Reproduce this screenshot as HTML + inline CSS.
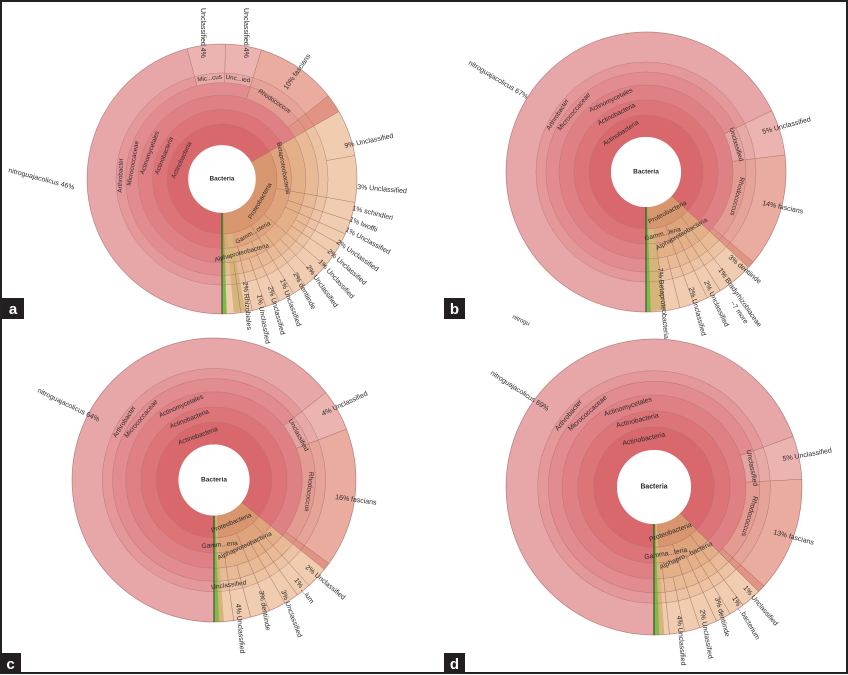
<!DOCTYPE html>
<html><head><meta charset="utf-8"><style>
html,body{margin:0;padding:0;background:#fff}
svg{display:block}
text{font-family:"Liberation Sans",sans-serif;fill:#2a2a2a}
.s{fill:none}
.b{fill:none;stroke:#a86868;stroke-width:.5;opacity:.75}
.rl{stroke:#a07060;stroke-width:.45}
.t{font-size:6.5px;text-anchor:middle;dominant-baseline:central}
.o{font-size:7px}
</style></head><body>
<svg width="848" height="675" viewBox="0 0 848 675" xmlns="http://www.w3.org/2000/svg">
<rect x="0" y="0" width="848" height="675" fill="#fff"/>
<rect x="1" y="1" width="846" height="672" fill="none" stroke="#222" stroke-width="2"/>

<defs>
<g id="base">
<circle class="s" r="46" stroke="#d9686c" stroke-width="22"/>
<circle class="s" r="64.5" stroke="#dc7478" stroke-width="15"/>
<circle class="s" r="79.5" stroke="#df8084" stroke-width="15"/>
<circle class="s" r="93.5" stroke="#e28c8f" stroke-width="13"/>
<circle class="s" r="105" stroke="#e5989a" stroke-width="10"/>
<circle class="s" r="125" stroke="#e7a6a7" stroke-width="30"/>
</g>
<g id="rings">
<circle class="b" r="57"/><circle class="b" r="72"/><circle class="b" r="87"/>
<circle class="b" r="100"/><circle class="b" r="110"/><circle class="b" r="140" style="stroke-width:.7"/>
</g>
</defs>

<!-- Panel a -->
<g transform="translate(222,179) scale(0.964)">
<use href="#base"/>
<!-- proteo 60 -> 178 -->
<g transform="rotate(-30)">
<circle class="s" r="46" stroke="#d8966f" stroke-width="22" pathLength="360" stroke-dasharray="118 360"/>
<circle class="s" r="64.5" stroke="#dfa47c" stroke-width="15" pathLength="360" stroke-dasharray="118 360"/>
<circle class="s" r="79.5" stroke="#e4b088" stroke-width="15" pathLength="360" stroke-dasharray="118 360"/>
<circle class="s" r="93.5" stroke="#e8bb96" stroke-width="13" pathLength="360" stroke-dasharray="118 360"/>
<circle class="s" r="105" stroke="#ecc4a3" stroke-width="10" pathLength="360" stroke-dasharray="118 360"/>
<circle class="s" r="125" stroke="#f0cdb0" stroke-width="30" pathLength="360" stroke-dasharray="118 360"/>
</g>
<circle class="s" r="98" stroke="#d6b57a" stroke-width="82" pathLength="360" stroke-dasharray="5 360" transform="rotate(80)"/>
<!-- rhodococcus 17->52 -->
<g transform="rotate(-73)">
<circle class="s" r="93.5" stroke="#e49c92" stroke-width="13" pathLength="360" stroke-dasharray="35 360"/>
<circle class="s" r="105" stroke="#e6a397" stroke-width="10" pathLength="360" stroke-dasharray="35 360"/>
<circle class="s" r="125" stroke="#e9ac9f" stroke-width="30" pathLength="360" stroke-dasharray="35 360"/>
</g>
<circle class="s" r="113.5" stroke="#e29484" stroke-width="53" pathLength="360" stroke-dasharray="8 360" transform="rotate(-38)"/>
<!-- Mic..cus / Unc..ied -15 -> 17 -->
<g transform="rotate(-105)">
<circle class="s" r="105" stroke="#e8aaa6" stroke-width="10" pathLength="360" stroke-dasharray="32 360"/>
<circle class="s" r="125" stroke="#ebb4b0" stroke-width="30" pathLength="360" stroke-dasharray="32 360"/>
</g>
<circle class="s" r="87.5" stroke="#7fba48" stroke-width="105" pathLength="360" stroke-dasharray="2 360" transform="rotate(88)"/>
<use href="#rings"/>
<g class="rl">
<line y1="-35" y2="-140" transform="rotate(60)"/><line y1="-35" y2="-140" transform="rotate(180)" style="stroke:#1f4a1f;stroke-width:1"/>
<line y1="-100" y2="-140" transform="rotate(-15)"/><line y1="-100" y2="-140" transform="rotate(1.5)"/><line y1="-87" y2="-140" transform="rotate(17)"/><line y1="-87" y2="-140" transform="rotate(52)"/>
<line y1="-57" y2="-140" transform="rotate(100)"/><line y1="-110" y2="-140" transform="rotate(80)"/><line y1="-72" y2="-140" transform="rotate(108)"/>
<line y1="-72" y2="-140" transform="rotate(114)"/><line y1="-87" y2="-140" transform="rotate(119)"/><line y1="-87" y2="-140" transform="rotate(124)"/>
<line y1="-57" y2="-140" transform="rotate(130)"/><line y1="-87" y2="-140" transform="rotate(136)"/><line y1="-72" y2="-140" transform="rotate(142)"/>
<line y1="-57" y2="-140" transform="rotate(148)"/><line y1="-72" y2="-140" transform="rotate(155)"/><line y1="-87" y2="-140" transform="rotate(161)"/>
<line y1="-72" y2="-140" transform="rotate(167)"/><line y1="-87" y2="-140" transform="rotate(172)"/>
</g>
<circle r="35" fill="#fff"/>
<text class="t" style="font-weight:bold" y="0">Bacteria</text>
<text class="t" transform="rotate(-65) translate(0,-46)">Actinobacteria</text>
<text class="t" transform="rotate(-68) translate(0,-64.5)">Actinobacteria</text>
<text class="t" transform="rotate(-70) translate(0,-79.5)">Actinomycetales</text>
<text class="t" transform="rotate(-80) translate(0,-93.5)">Micrococcaceae</text>
<text class="t" transform="rotate(-88) translate(0,-105)">Arthrobacter</text>
<text class="t" transform="rotate(34) translate(0,-97)">Rhodococcus</text>
<text class="t" transform="rotate(-7) translate(0,-105)">Mic...cus</text>
<text class="t" transform="rotate(9) translate(0,-105)">Unc...ied</text>
<text class="t" transform="rotate(120) translate(0,-46) rotate(180)">Proteobacteria</text>
<text class="t" transform="rotate(150) translate(0,-64.5) rotate(180)">Gamm...cteria</text>
<text class="t" transform="rotate(165) translate(0,-79.5) rotate(180)">Alphaproteobacteria</text>
<text class="t" transform="rotate(80) translate(0,-64.5)">Betaproteobacteria</text>
</g>
<text class="o" transform="translate(8,172) rotate(15)">nitroguajacolicus  46%</text>
<text class="o" transform="translate(201,8) rotate(90)">Unclassified  4%</text>
<text class="o" transform="translate(244,8) rotate(90)">Unclassified  4%</text>
<text class="o" transform="translate(287,90) rotate(-55)">10%  fascians</text>
<text class="o" transform="translate(345,148) rotate(-12)">9%  Unclassified</text>
<text class="o" transform="translate(357,189) rotate(5)">3%  Unclassified</text>
<text class="o" transform="translate(352,210) rotate(14)">1%  schindleri</text>
<text class="o" transform="translate(349,221) rotate(22)">1%  lwoffii</text>
<text class="o" transform="translate(345,231) rotate(28)">1%  Unclassified</text>
<text class="o" transform="translate(336,243) rotate(35)">2%  Unclassified</text>
<text class="o" transform="translate(327,252) rotate(42)">2%  Unclassified</text>
<text class="o" transform="translate(318,262) rotate(48)">1%  Unclassified</text>
<text class="o" transform="translate(306,267) rotate(55)">2%  Unclassified</text>
<text class="o" transform="translate(293,274) rotate(62)">2%  dentiinde</text>
<text class="o" transform="translate(280,280) rotate(70)">1%  Unclassified</text>
<text class="o" transform="translate(268,287) rotate(75)">2%  Unclassified</text>
<text class="o" transform="translate(257,295) rotate(80)">1%  Unclassified</text>
<text class="o" transform="translate(243,282) rotate(85)">2%  Rhizobiales</text>

<!-- Panel b -->
<g transform="translate(646,172)">
<use href="#base"/>
<g transform="rotate(43)">
<circle class="s" r="46" stroke="#d8966f" stroke-width="22" pathLength="360" stroke-dasharray="45 360"/>
<circle class="s" r="64.5" stroke="#dfa47c" stroke-width="15" pathLength="360" stroke-dasharray="45 360"/>
<circle class="s" r="79.5" stroke="#e4b088" stroke-width="15" pathLength="360" stroke-dasharray="45 360"/>
<circle class="s" r="93.5" stroke="#e8bb96" stroke-width="13" pathLength="360" stroke-dasharray="45 360"/>
<circle class="s" r="105" stroke="#ecc4a3" stroke-width="10" pathLength="360" stroke-dasharray="45 360"/>
<circle class="s" r="125" stroke="#f0cdb0" stroke-width="30" pathLength="360" stroke-dasharray="45 360"/>
</g>
<circle class="s" r="98" stroke="#d6b57a" stroke-width="82" pathLength="360" stroke-dasharray="6 360" transform="rotate(82)"/>
<g transform="rotate(-7)">
<circle class="s" r="93.5" stroke="#e49c92" stroke-width="13" pathLength="360" stroke-dasharray="47 360"/>
<circle class="s" r="105" stroke="#e6a397" stroke-width="10" pathLength="360" stroke-dasharray="47 360"/>
<circle class="s" r="125" stroke="#e9ac9f" stroke-width="30" pathLength="360" stroke-dasharray="47 360"/>
</g>
<g transform="rotate(-26)">
<circle class="s" r="93.5" stroke="#e5a3a2" stroke-width="13" pathLength="360" stroke-dasharray="19 360"/>
<circle class="s" r="105" stroke="#e8aaa6" stroke-width="10" pathLength="360" stroke-dasharray="19 360"/>
<circle class="s" r="125" stroke="#ebb4b0" stroke-width="30" pathLength="360" stroke-dasharray="19 360"/>
</g>
<circle class="s" r="113.5" stroke="#e29484" stroke-width="53" pathLength="360" stroke-dasharray="3 360" transform="rotate(40)"/>
<circle class="s" r="87.5" stroke="#7fba48" stroke-width="105" pathLength="360" stroke-dasharray="2 360" transform="rotate(88)"/>
<use href="#rings"/>
<g class="rl">
<line y1="-35" y2="-140" transform="rotate(133)"/><line y1="-35" y2="-140" transform="rotate(180)" style="stroke:#1f4a1f;stroke-width:1"/>
<line y1="-87" y2="-140" transform="rotate(64)"/><line y1="-87" y2="-140" transform="rotate(83)"/><line y1="-87" y2="-140" transform="rotate(130)"/>
<line y1="-57" y2="-140" transform="rotate(142)"/><line y1="-72" y2="-140" transform="rotate(148)"/><line y1="-72" y2="-140" transform="rotate(154)"/>
<line y1="-57" y2="-140" transform="rotate(160)"/><line y1="-87" y2="-140" transform="rotate(166)"/><line y1="-72" y2="-140" transform="rotate(172)"/>
</g>
<circle r="35" fill="#fff"/>
<text class="t" style="font-weight:bold">Bacteria</text>
<text class="t" transform="rotate(-33) translate(0,-46)">Actinobacteria</text>
<text class="t" transform="rotate(-27) translate(0,-64.5)">Actinobacteria</text>
<text class="t" transform="rotate(-26) translate(0,-79.5)">Actinomycetales</text>
<text class="t" transform="rotate(-50) translate(0,-93.5)">Micrococcaceae</text>
<text class="t" transform="rotate(-57) translate(0,-105)">Arthrobacter</text>
<text class="t" transform="rotate(105) translate(0,-94)">Rhodococcus</text>
<text class="t" transform="rotate(73) translate(0,-94)">Unclassified</text>
<text class="t" transform="rotate(152) translate(0,-46) rotate(180)">Proteobacteria</text>
<text class="t" transform="rotate(165) translate(0,-64.5) rotate(180)">Gamm...leria</text>
<text class="t" transform="rotate(150) translate(0,-72) rotate(180)">Alphaproteobacteria</text>
</g>
<text class="o" transform="translate(468,64) rotate(31)">nitroguajacolicus  67%</text>
<text class="o" transform="translate(763,134) rotate(-15)">5%  Unclassified</text>
<text class="o" transform="translate(762,205) rotate(12)">14%  fascians</text>
<text class="o" transform="translate(728,258) rotate(40)">3%  dentiinde</text>
<text class="o" transform="translate(718,270) rotate(55)">1%  Bradyrhizobiaceae</text>
<text class="o" transform="translate(704,282) rotate(65)">2%  Unclassified</text>
<text class="o" transform="translate(689,288) rotate(75)">2%  Unclassified</text>
<text class="o" transform="translate(658,268) rotate(85)">7%  Betaproteobacteria</text>
<text class="o" transform="translate(730,303) rotate(55)">~7 more</text>
<text class="o" transform="translate(512,318) rotate(25)" style="font-size:6px">nitrogu</text>

<!-- Panel c -->
<g transform="translate(214,480) scale(1.014)">
<use href="#base"/>
<g transform="rotate(39)">
<circle class="s" r="46" stroke="#d8966f" stroke-width="22" pathLength="360" stroke-dasharray="49 360"/>
<circle class="s" r="64.5" stroke="#dfa47c" stroke-width="15" pathLength="360" stroke-dasharray="49 360"/>
<circle class="s" r="79.5" stroke="#e4b088" stroke-width="15" pathLength="360" stroke-dasharray="49 360"/>
<circle class="s" r="93.5" stroke="#e8bb96" stroke-width="13" pathLength="360" stroke-dasharray="49 360"/>
<circle class="s" r="105" stroke="#ecc4a3" stroke-width="10" pathLength="360" stroke-dasharray="49 360"/>
<circle class="s" r="125" stroke="#f0cdb0" stroke-width="30" pathLength="360" stroke-dasharray="49 360"/>
</g>
<g transform="rotate(-21)">
<circle class="s" r="93.5" stroke="#e49c92" stroke-width="13" pathLength="360" stroke-dasharray="57 360"/>
<circle class="s" r="105" stroke="#e6a397" stroke-width="10" pathLength="360" stroke-dasharray="57 360"/>
<circle class="s" r="125" stroke="#e9ac9f" stroke-width="30" pathLength="360" stroke-dasharray="57 360"/>
</g>
<g transform="rotate(-38)">
<circle class="s" r="93.5" stroke="#e5a3a2" stroke-width="13" pathLength="360" stroke-dasharray="17 360"/>
<circle class="s" r="105" stroke="#e8aaa6" stroke-width="10" pathLength="360" stroke-dasharray="17 360"/>
<circle class="s" r="125" stroke="#ebb4b0" stroke-width="30" pathLength="360" stroke-dasharray="17 360"/>
</g>
<circle class="s" r="113.5" stroke="#e29484" stroke-width="53" pathLength="360" stroke-dasharray="3 360" transform="rotate(36)"/>
<circle class="s" r="87.5" stroke="#d6b57a" stroke-width="105" pathLength="360" stroke-dasharray="3 360" transform="rotate(86)"/>
<circle class="s" r="87.5" stroke="#7fba48" stroke-width="105" pathLength="360" stroke-dasharray="2 360" transform="rotate(88)"/>
<use href="#rings"/>
<g class="rl">
<line y1="-35" y2="-140" transform="rotate(129)"/><line y1="-35" y2="-140" transform="rotate(180)" style="stroke:#1f4a1f;stroke-width:1"/>
<line y1="-87" y2="-140" transform="rotate(52)"/><line y1="-87" y2="-140" transform="rotate(69)"/><line y1="-87" y2="-140" transform="rotate(126)"/>
<line y1="-57" y2="-140" transform="rotate(138)"/><line y1="-72" y2="-140" transform="rotate(144)"/><line y1="-72" y2="-140" transform="rotate(150)"/>
<line y1="-57" y2="-140" transform="rotate(157)"/><line y1="-87" y2="-140" transform="rotate(165)"/><line y1="-72" y2="-140" transform="rotate(172)"/>
</g>
<circle r="35" fill="#fff"/>
<text class="t" style="font-weight:bold">Bacteria</text>
<text class="t" transform="rotate(-20) translate(0,-46)">Actinobacteria</text>
<text class="t" transform="rotate(-22) translate(0,-64.5)">Actinobacteria</text>
<text class="t" transform="rotate(-24) translate(0,-79.5)">Actinomycetales</text>
<text class="t" transform="rotate(-50) translate(0,-93.5)">Micrococcaceae</text>
<text class="t" transform="rotate(-57) translate(0,-105)">Arthrobacter</text>
<text class="t" transform="rotate(97) translate(0,-94)">Rhodococcus</text>
<text class="t" transform="rotate(62) translate(0,-94)">Unclassified</text>
<text class="t" transform="rotate(158) translate(0,-46) rotate(180)">Proteobacteria</text>
<text class="t" transform="rotate(175) translate(0,-64.5) rotate(180)">Gamm...eria</text>
<text class="t" transform="rotate(155) translate(0,-72) rotate(180)">Alphaproteobacteria</text>
<text class="t" transform="rotate(172) translate(0,-105) rotate(180)">Unclassified</text>
</g>
<text class="o" transform="translate(37,392) rotate(26)">nitroguajacolicus  64%</text>
<text class="o" transform="translate(323,416) rotate(-25)">4%  Unclassified</text>
<text class="o" transform="translate(335,499) rotate(8)">16%  fascians</text>
<text class="o" transform="translate(305,568) rotate(40)">2%  Unclassified</text>
<text class="o" transform="translate(294,580) rotate(55)">1%  ...ium</text>
<text class="o" transform="translate(281,591) rotate(70)">3%  Unclassified</text>
<text class="o" transform="translate(259,591) rotate(80)">3%  dentiinde</text>
<text class="o" transform="translate(236,604) rotate(85)">4%  Unclassified</text>

<!-- Panel d -->
<g transform="translate(654,487) scale(1.057)">
<use href="#base"/>
<g transform="rotate(45)">
<circle class="s" r="46" stroke="#d8966f" stroke-width="22" pathLength="360" stroke-dasharray="43 360"/>
<circle class="s" r="64.5" stroke="#dfa47c" stroke-width="15" pathLength="360" stroke-dasharray="43 360"/>
<circle class="s" r="79.5" stroke="#e4b088" stroke-width="15" pathLength="360" stroke-dasharray="43 360"/>
<circle class="s" r="93.5" stroke="#e8bb96" stroke-width="13" pathLength="360" stroke-dasharray="43 360"/>
<circle class="s" r="105" stroke="#ecc4a3" stroke-width="10" pathLength="360" stroke-dasharray="43 360"/>
<circle class="s" r="125" stroke="#f0cdb0" stroke-width="30" pathLength="360" stroke-dasharray="43 360"/>
</g>
<g transform="rotate(-3)">
<circle class="s" r="93.5" stroke="#e49c92" stroke-width="13" pathLength="360" stroke-dasharray="45 360"/>
<circle class="s" r="105" stroke="#e6a397" stroke-width="10" pathLength="360" stroke-dasharray="45 360"/>
<circle class="s" r="125" stroke="#e9ac9f" stroke-width="30" pathLength="360" stroke-dasharray="45 360"/>
</g>
<g transform="rotate(-20)">
<circle class="s" r="93.5" stroke="#e5a3a2" stroke-width="13" pathLength="360" stroke-dasharray="17 360"/>
<circle class="s" r="105" stroke="#e8aaa6" stroke-width="10" pathLength="360" stroke-dasharray="17 360"/>
<circle class="s" r="125" stroke="#ebb4b0" stroke-width="30" pathLength="360" stroke-dasharray="17 360"/>
</g>
<circle class="s" r="113.5" stroke="#e29484" stroke-width="53" pathLength="360" stroke-dasharray="3 360" transform="rotate(42)"/>
<circle class="s" r="87.5" stroke="#d6b57a" stroke-width="105" pathLength="360" stroke-dasharray="3 360" transform="rotate(86)"/>
<circle class="s" r="87.5" stroke="#7fba48" stroke-width="105" pathLength="360" stroke-dasharray="2 360" transform="rotate(88)"/>
<use href="#rings"/>
<g class="rl">
<line y1="-35" y2="-140" transform="rotate(135)"/><line y1="-35" y2="-140" transform="rotate(180)" style="stroke:#1f4a1f;stroke-width:1"/>
<line y1="-87" y2="-140" transform="rotate(70)"/><line y1="-87" y2="-140" transform="rotate(87)"/><line y1="-87" y2="-140" transform="rotate(132)"/>
<line y1="-57" y2="-140" transform="rotate(143)"/><line y1="-72" y2="-140" transform="rotate(149)"/><line y1="-72" y2="-140" transform="rotate(155)"/>
<line y1="-57" y2="-140" transform="rotate(162)"/><line y1="-87" y2="-140" transform="rotate(168)"/><line y1="-72" y2="-140" transform="rotate(174)"/>
</g>
<circle r="35" fill="#fff"/>
<text class="t" style="font-weight:bold">Bacteria</text>
<text class="t" transform="rotate(-12) translate(0,-46)">Actinobacteria</text>
<text class="t" transform="rotate(-14) translate(0,-64.5)">Actinobacteria</text>
<text class="t" transform="rotate(-18) translate(0,-79.5)">Actinomycetales</text>
<text class="t" transform="rotate(-42) translate(0,-93.5)">Micrococcaceae</text>
<text class="t" transform="rotate(-50) translate(0,-105)">Arthrobacter</text>
<text class="t" transform="rotate(107) translate(0,-94)">Rhodococcus</text>
<text class="t" transform="rotate(79) translate(0,-94)">Unclassified</text>
<text class="t" transform="rotate(160) translate(0,-46) rotate(180)">Proteobacteria</text>
<text class="t" transform="rotate(170) translate(0,-64.5) rotate(180)">Gamma...teria</text>
<text class="t" transform="rotate(155) translate(0,-72) rotate(180)">Alphapro...bacteria</text>
</g>
<text class="o" transform="translate(490,374) rotate(33)">nitroguajacolicus  69%</text>
<text class="o" transform="translate(783,461) rotate(-10)">5%  Unclassified</text>
<text class="o" transform="translate(773,534) rotate(15)">13%  fascians</text>
<text class="o" transform="translate(743,588) rotate(50)">1%  Unclassified</text>
<text class="o" transform="translate(732,598) rotate(60)">1%  ...bacterium</text>
<text class="o" transform="translate(715,598) rotate(75)">3%  dentiinde</text>
<text class="o" transform="translate(700,610) rotate(80)">2%  Unclassified</text>
<text class="o" transform="translate(677,616) rotate(85)">4%  Unclassified</text>

<!-- panel letters -->
<rect x="2" y="298" width="22" height="21" fill="#231f20"/><text x="13" y="314" text-anchor="middle" style="fill:#fff;font-size:15px;font-weight:bold">a</text>
<rect x="444" y="298" width="21" height="21" fill="#231f20"/><text x="454.5" y="314" text-anchor="middle" style="fill:#fff;font-size:15px;font-weight:bold">b</text>
<rect x="0" y="653" width="21" height="21" fill="#231f20"/><text x="10.5" y="669" text-anchor="middle" style="fill:#fff;font-size:15px;font-weight:bold">c</text>
<rect x="444" y="653" width="21" height="21" fill="#231f20"/><text x="454.5" y="669" text-anchor="middle" style="fill:#fff;font-size:15px;font-weight:bold">d</text>
</svg>
</body></html>
